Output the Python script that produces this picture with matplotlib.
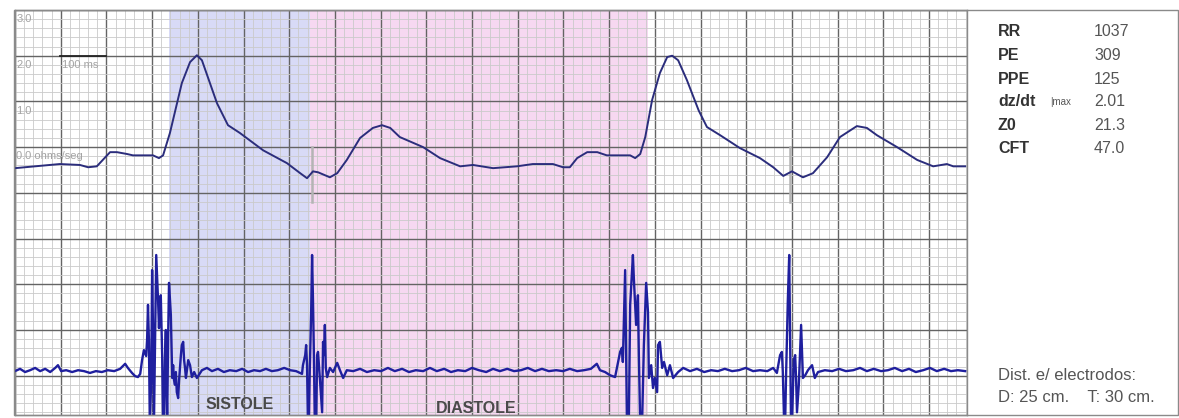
import matplotlib
matplotlib.use("Agg")
import matplotlib.pyplot as plt
from matplotlib.patches import Rectangle
import numpy as np

plt.rcParams['font.family'] = ['Liberation Sans', 'DejaVu Sans']

# impedance derivative dZ/dt (ohm/s) vs time (ms)
dz_t = [0, 98, 142, 160, 179, 208, 223, 245, 258, 302, 315, 324, 339, 365, 383, 398,
        409, 422, 442, 466, 492, 543, 595, 624, 639, 652, 663, 689, 705, 726, 755,
        783, 803, 821, 842, 893, 930, 974, 1002, 1046, 1098, 1133, 1177, 1199, 1214,
        1230, 1252, 1274, 1295, 1346, 1357, 1368, 1379, 1394, 1411, 1427, 1438, 1451,
        1470, 1496, 1514, 1543, 1586, 1630, 1659, 1681, 1700, 1724, 1746, 1777, 1805,
        1842, 1864, 1886, 1930, 1974, 2009, 2039, 2053, 2079]
dz_v = [-0.46, -0.37, -0.39, -0.44, -0.42, -0.11, -0.11, -0.15, -0.18, -0.18, -0.24,
        -0.18, 0.31, 1.40, 1.86, 2.01, 1.90, 1.53, 0.96, 0.48, 0.31, -0.07, -0.35,
        -0.57, -0.68, -0.53, -0.55, -0.66, -0.57, -0.28, 0.20, 0.42, 0.48, 0.42, 0.22,
        0.0, -0.24, -0.42, -0.39, -0.46, -0.42, -0.37, -0.37, -0.44, -0.44, -0.24,
        -0.11, -0.11, -0.18, -0.18, -0.24, -0.15, 0.22, 1.03, 1.62, 1.97, 2.00, 1.90,
        1.47, 0.80, 0.44, 0.26, -0.02, -0.24, -0.44, -0.63, -0.53, -0.66, -0.57, -0.22,
        0.22, 0.46, 0.42, 0.26, 0.0, -0.28, -0.42, -0.37, -0.42, -0.42]

# ECG lead, relative to its own baseline (grid units)
ecg_t = [0, 11, 22, 33, 44, 55, 66, 77, 88, 94, 101, 112, 125, 138, 151, 164, 177, 190,
         203, 217, 230, 241, 247, 256, 263, 269, 274,
         278, 282, 287, 289, 291, 293, 295, 298, 300, 302, 304, 306, 309, 311, 313, 315,
         317, 319, 322, 324, 326, 328, 330, 333, 335, 337, 339, 341, 344, 346, 348, 350,
         352, 354, 357, 359, 363, 365, 368, 370, 372, 374, 379, 383, 387, 392, 398, 409,
         420,
         431, 444, 457, 470, 484, 497, 510, 523, 536, 549, 562, 575, 589, 602, 615, 624,
         628,
         630, 635, 637, 639, 641, 643, 645, 648, 650, 652, 654, 656, 659, 661, 663, 667,
         672, 674, 676, 678, 680, 683, 689, 696, 705, 711, 718, 726,
         740, 755, 770, 786, 801, 816, 831, 847, 862, 877, 893, 908, 923, 939, 954, 969,
         985, 1000, 1015, 1031, 1046, 1061, 1077, 1092, 1107, 1122, 1138, 1153, 1168,
         1184, 1199, 1214, 1230, 1245, 1260, 1273, 1280, 1291, 1302, 1313,
         1324, 1328, 1330, 1335, 1339, 1343, 1346, 1352, 1354, 1359, 1363, 1365, 1368,
         1372, 1376, 1381, 1385, 1387, 1392, 1396, 1400, 1405, 1407, 1411, 1416, 1420,
         1427, 1433, 1440, 1451, 1462,
         1477, 1492, 1508, 1523, 1538, 1553, 1569, 1584, 1599, 1615, 1630, 1646, 1659,
         1667,
         1674, 1678, 1680, 1683, 1685, 1687, 1691, 1694, 1696, 1698, 1700, 1704, 1707,
         1709, 1711, 1715, 1720, 1724, 1729, 1735, 1744, 1750, 1757,
         1772, 1788, 1803, 1818, 1834, 1849, 1864, 1879, 1895, 1910, 1925, 1941, 1956,
         1971, 1987, 2002, 2017, 2033, 2048, 2063, 2079]
ecg_v = [0.02, 0.07, 0.0, 0.04, 0.09, 0.02, 0.07, 0.0, 0.09, 0.15, 0.02, 0.04, 0.0,
         0.04, 0.02, -0.02, 0.02, 0.0, 0.04, 0.02, 0.07, 0.18, 0.09, -0.02, -0.09,
         -0.11, -0.04,
         0.26, 0.48, 0.35, 0.70, 1.47, 0.70, -1.16, -0.18, 2.23, 0.92, -1.16, 0.26,
         2.56, 2.06, 1.58, 0.96, 1.53, 1.68, 0.37, -1.16, -1.16, 0.26, 0.92, -1.16,
         0.74, 1.95, 1.58, 1.25, -0.13, 0.15, -0.18, -0.28, 0.0, -0.44, -0.57, -0.18,
         0.37, 0.59, 0.66, 0.26, 0.09, -0.13, 0.26, 0.15, -0.11, 0.0, -0.13, 0.04, 0.09,
         0.02, 0.07, 0.0, 0.04, 0.02, 0.07, 0.0, 0.04, 0.02, 0.07, 0.02, 0.04, 0.09,
         0.04, 0.02, -0.02, -0.04,
         0.15, 0.37, 0.59, 0.15, -1.16, -1.16, 0.04, 1.31, 2.56, 1.58, 0.37, -1.16,
         -1.16, 0.37, 0.44, -0.13, -0.88, 0.66, 0.37, 1.03, 0.09, -0.11, 0.09, 0.0,
         0.20, 0.04, -0.13, 0.04,
         0.02, 0.07, 0.0, 0.04, 0.02, 0.09, 0.02, 0.07, 0.0, 0.04, 0.02, 0.09, 0.02,
         0.07, 0.0, 0.04, 0.02, 0.09, 0.04, 0.0, 0.07, 0.02, 0.07, 0.02, 0.04, 0.09,
         0.02, 0.07, 0.02, 0.04, 0.02, 0.07, 0.02, 0.04, 0.07, 0.18, 0.04, 0.0, -0.07,
         -0.11,
         0.44, 0.53, 0.22, 2.23, -1.16, -1.16, 1.47, 2.56, 2.06, 1.03, 1.68, 0.37,
         -1.16, -1.16, 0.59, 1.95, 1.31, -0.13, 0.15, -0.35, -0.13, -0.44, 0.59, 0.66,
         0.09, 0.22, -0.07, 0.15, -0.13, 0.0, 0.09,
         0.02, 0.07, 0.0, 0.04, 0.02, 0.07, 0.02, 0.04, 0.09, 0.02, 0.04, 0.02, 0.09,
         -0.02,
         0.37, 0.44, 0.0, -1.16, -1.16, -0.13, 1.58, 2.56, 0.59, -1.16, -1.16, 0.26,
         0.37, -0.13, -0.88, -0.28, 1.03, -0.13, -0.07, 0.04, 0.15, -0.13, 0.0,
         0.04, 0.02, 0.07, 0.02, 0.04, 0.09, 0.02, 0.07, 0.02, 0.04, 0.09, 0.02, 0.07,
         0.0, 0.04, 0.09, 0.02, 0.07, 0.02, 0.04, 0.02]
ecg_base = -4.92

# cardiac phases (ms)
systole = (336, 645)
diastole = (645, 1385)
x_markers = [650, 1696]

# summary values
param_names = ['RR', 'PE', 'PPE', 'dz/dt', 'Z0', 'CFT']
param_values = ['1037', '309', '125', '2.01', '21.3', '47.0']

W, H = 1179, 418
fig = plt.figure(figsize=(W / 100, H / 100), dpi=100)
fig.patch.set_facecolor('white')
ax = fig.add_axes([15 / W, 3 / H, 952 / W, 405 / H])

ax.set_xlim(0, 2083)
ax.set_ylim(-5.86, 3.0)

ax.axvspan(*systole, color='#d8daf6', zorder=0.1, lw=0)
ax.axvspan(*diastole, color='#f6d8f1', zorder=0.1, lw=0)

ax.set_xticks(np.arange(0, 2084, 100))
ax.set_xticks(np.arange(0, 2084, 20), minor=True)
ax.set_yticks(np.arange(-5, 4, 1))
ax.set_yticks(np.arange(-5.8, 3.01, 0.2), minor=True)
ax.set_axisbelow(True)
ax.grid(which='major', color='#646464', lw=1.0)
ax.grid(which='minor', color='#cacaca', lw=0.6)
ax.tick_params(which='both', length=0, labelleft=False, labelbottom=False)
for s in ax.spines.values():
    s.set_color('#8a8a8a')
    s.set_linewidth(1.0)

for xm in x_markers:
    ax.plot([xm, xm], [0.0, -1.2], color='#b4b4b4', lw=1.8, zorder=1)

ax.plot(dz_t, dz_v, color='#2b2d7c', lw=1.4, zorder=3)
ax.plot(ecg_t, np.array(ecg_v) + ecg_base, color='#1f1f9e', lw=1.7, zorder=3)

# scale labels inside the grid
for val in [3.0, 2.0, 1.0]:
    ax.text(3, val - 0.2, f'{val:.1f}', fontsize=8, color='#a4a4a4', va='center')
ax.text(3, -0.2, '0.0 ohms/seg', fontsize=8, color='#a4a4a4', va='center')
ax.plot([98, 200], [2.0, 2.0], color='#222222', lw=1.3, zorder=3)
ax.text(102, 1.8, '100 ms', fontsize=8, color='#a4a4a4', va='center')

ax.text(492, -5.64, 'SISTOLE', fontsize=11.5, fontweight='bold', color='#4a4a4a',
        ha='center', va='center')
ax.text(1009, -5.72, 'DIASTOLE', fontsize=11.5, fontweight='bold', color='#4a4a4a',
        ha='center', va='center')

# outer frame
fig.add_artist(Rectangle((14 / W, 3 / H), (W - 15) / W, 405 / H,
                         transform=fig.transFigure, fill=False,
                         edgecolor='#8a8a8a', lw=1.0))

rows_y = [32, 55, 79, 102, 125, 148]
for name, val, y in zip(param_names, param_values, rows_y):
    fy = 1 - y / H
    fig.text(998 / W, fy, name, fontsize=11.5, fontweight='bold', color='#333333',
             va='center')
    fig.text(1094 / W, fy, val, fontsize=11.5, color='#555555', va='center')
fig.text(1050 / W, 1 - 102 / H, '|max', fontsize=7, color='#555555', va='center')

fig.text(998 / W, 1 - 375 / H, 'Dist. e/ electrodos:', fontsize=12, color='#555555',
         va='center')
fig.text(998 / W, 1 - 398 / H, 'D: 25 cm.    T: 30 cm.', fontsize=12, color='#555555',
         va='center')

fig.savefig('out.png', dpi=100, facecolor='white')
